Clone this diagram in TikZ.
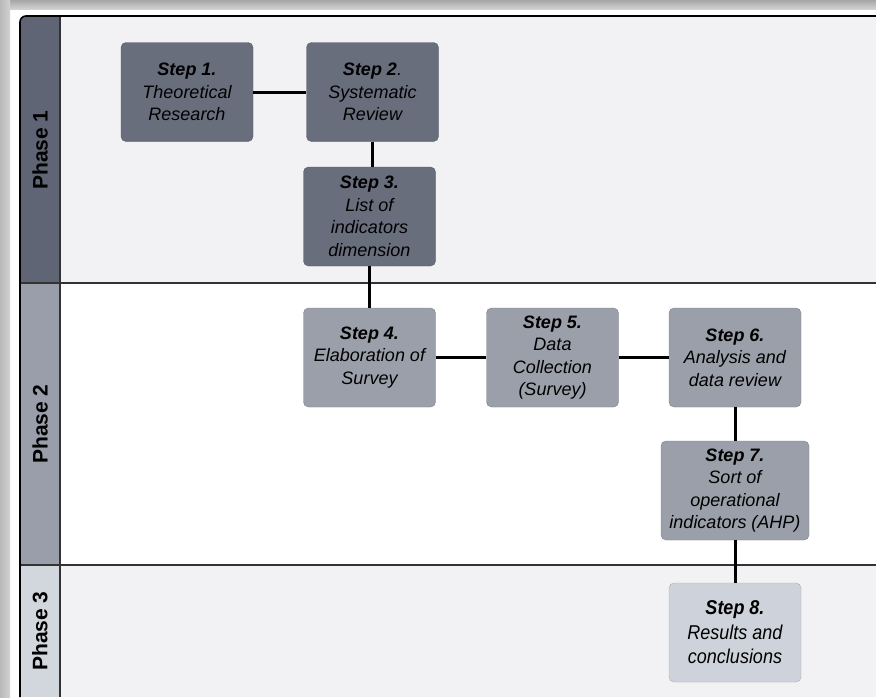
\documentclass[tikz,border=0pt]{standalone}
\usepackage{fontspec}
\setmainfont{Liberation Sans}
\newfontfamily\narrowsans[FakeStretch=0.9]{Liberation Sans}
\definecolor{phaseA}{HTML}{5F6574}
\definecolor{phaseB}{HTML}{9A9EAA}
\definecolor{phaseC}{HTML}{D2D6DD}
\definecolor{boxA}{HTML}{686E7C}
\definecolor{boxB}{HTML}{9B9FA9}
\definecolor{boxC}{HTML}{CED2DA}
\definecolor{lane}{HTML}{F2F2F4}
\begin{document}
\begin{tikzpicture}[x=1pt,y=-1pt,
    stepbox/.style={draw=#1!82!black, fill=#1, rounded corners=5pt, minimum width=132pt,
        minimum height=99pt, align=center, inner sep=2pt,
        font=\fontsize{18}{22.5}\selectfont\itshape},
    link/.style={line width=3pt},
    phase/.style={rotate=90, font=\fontsize{21}{24}\selectfont\bfseries}]
\useasboundingbox (0,0) rectangle (876,697);

% frame shadow
\shade[top color=gray!70, bottom color=gray!35] (0,0) rectangle (876,9);
\shade[left color=gray!55, right color=gray!35] (0,0) rectangle (10,697);

% lanes
\fill[lane] (60,16) rectangle (876,283);
\fill[white] (60,283) rectangle (876,565);
\fill[lane] (60,565) rectangle (876,697);
\fill[phaseA] (60,283) -- (20,283) -- (20,22) arc[start angle=180, end angle=270, radius=6] -- (60,16) -- cycle;
\fill[phaseB] (20,283) rectangle (60,565);
\fill[phaseC] (20,565) rectangle (60,697);
\node[phase] (p1) at (40,150){Phase 1};
\node[phase] (p2) at (40,424){Phase 2};
\node[phase] (p3) at (40,631){Phase 3};

\draw[line width=1.5pt, black!80](20,283)--(876,283);
\draw[line width=1.5pt, black!80](20,565)--(876,565);
\draw[line width=1.2pt, black!80](60,16)--(60,697);
\draw[line width=1.6pt](876,16)--(26,16) arc[start angle=270, end angle=180, radius=6]--(20,697);

% steps
\node[stepbox=boxA] (s1) at (187,92){\textbf{Step 1.}\\Theoretical\\Research};
\node[stepbox=boxA] (s2) at (372.5,92){\textbf{Step 2}.\\Systematic\\Review};
\node[stepbox=boxA] (s3) at (369.5,216.5){\textbf{Step 3.}\\List of\\indicators\\dimension};
\node[stepbox=boxB] (s4) at (369.5,357.5){\textbf{Step 4.}\\Elaboration of\\Survey};
\node[stepbox=boxB] (s5) at (552.5,357.5){\textbf{Step 5.}\\Data\\Collection\\(Survey)};
\node[stepbox=boxB] (s6) at (735,357.5){\textbf{Step 6.}\\Analysis and\\data review};
\node[stepbox=boxB, minimum width=148pt] (s7) at (735,490.5){\textbf{Step 7.}\\Sort of\\operational\\indicators (AHP)};
\node[stepbox=boxC, font=\fontsize{20}{24.5}\narrowsans\itshape] (s8) at (735,632.5){\textbf{Step 8.}\\Results and\\conclusions};

\draw[link](s1)--(s2);
\draw[link](s2.south -| 372.5,0)--(s3.north -| 372.5,0);
\draw[link](s3)--(s4);
\draw[link](s4)--(s5);
\draw[link](s5)--(s6);
\draw[link](s6)--(s7);
\draw[link](s7)--(s8);

\end{tikzpicture}
\end{document}
